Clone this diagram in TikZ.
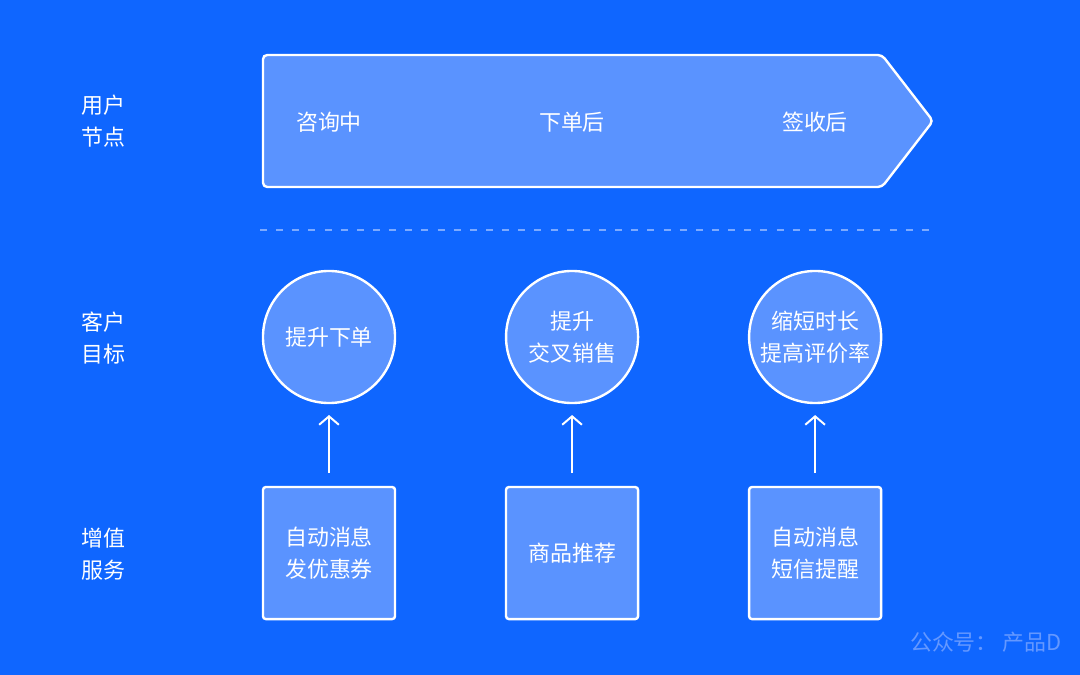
\documentclass[tikz,border=0pt]{standalone}
\usepackage{fontspec}
\setmainfont{Noto Sans CJK SC}
\usetikzlibrary{positioning,arrows.meta}
\definecolor{bgblue}{RGB}{15,102,255}
\definecolor{boxblue}{RGB}{90,147,255}
\definecolor{dashblue}{RGB}{125,170,255}
\definecolor{markblue}{RGB}{100,152,255}

\begin{document}
\begin{tikzpicture}[x=0.025cm, y=-0.025cm,
  every node/.style={text=white, font=\fontsize{15.6}{22.7}\selectfont},
  rowlabel/.style={align=left, anchor=west, inner sep=0pt},
  goal/.style={draw=white, line width=1.7pt, fill=boxblue, circle, minimum size=3.3cm,
    inner sep=0pt, outer sep=0pt, align=center},
  service/.style={draw=white, line width=1.7pt, fill=boxblue, rectangle, rounded corners=2pt,
    minimum size=3.3cm, inner sep=0pt, outer sep=0pt, align=center},
  uparrow/.style={draw=white, line width=1.4pt, -{Straight Barb[length=6pt,width=14pt]},
    shorten <=0.35cm, shorten >=0.3cm}]
  \fill[bgblue] (0,0) rectangle (1080,675);
  \useasboundingbox (0,0) rectangle (1080,675);

  % row labels
  \node[rowlabel] (lusers) at (81,121) {用户\\节点};
  \node[rowlabel] (lgoals) at (81,338) {客户\\目标};
  \node[rowlabel] (lservices) at (81,554) {增值\\服务};

  % user stages
  \draw[white, line width=1.7pt, fill=boxblue, rounded corners=3pt]
    (263,55) -- (882,55) -- (933,121) -- (882,187) -- (263,187) -- cycle;
  \node (s1) at (329,122) {咨询中};
  \node (s2) at (572,122) {下单后};
  \node (s3) at (815,122) {签收后};

  \coordinate (dl) at (260,230);
  \coordinate (dr) at (933,230);
  \draw[dashblue, line width=2pt, dash pattern=on 5pt off 6.48pt] (dl) -- (dr);

  % goals
  \node[goal] (g1) at (329,337) {提升下单};
  \node[goal, right=2.775cm of g1] (g2) {提升\\交叉销售};
  \node[goal, right=2.775cm of g2] (g3) {缩短时长\\提高评价率};

  % services
  \node[service, below=2.1cm of g1] (v1) {自动消息\\发优惠券};
  \node[service, below=2.1cm of g2] (v2) {商品推荐};
  \node[service, below=2.1cm of g3] (v3) {自动消息\\短信提醒};

  \draw[uparrow] (v1) -- (g1);
  \draw[uparrow] (v2) -- (g2);
  \draw[uparrow] (v3) -- (g3);

  \node[anchor=east, text=markblue, inner sep=0pt] (mark) at (1062,642) {公众号： 产品D};
\end{tikzpicture}
\end{document}
